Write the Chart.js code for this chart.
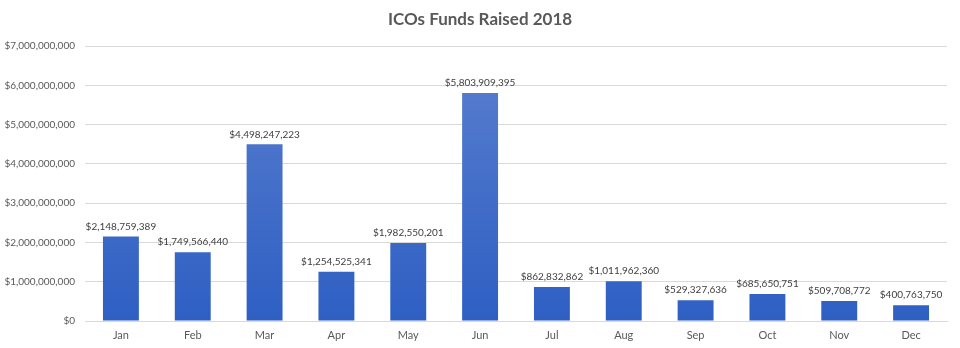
<!DOCTYPE html>
<html><head><meta charset="utf-8">
<script src="https://cdn.jsdelivr.net/npm/chart.js@4/dist/chart.umd.min.js"></script>
<style>html,body{margin:0;padding:0;background:#fff}#wrap{width:960px;height:348px}</style>
</head><body><div id="wrap"><canvas id="c" width="960" height="348"></canvas></div>
<script>
const categories = ["Jan","Feb","Mar","Apr","May","Jun","Jul","Aug","Sep","Oct","Nov","Dec"];
const fundsRaised = [2148759389,1749566440,4498247223,1254525341,1982550201,5803909395,862832862,1011962360,529327636,685650751,509708772,400763750];
const yTicks = [0,1e9,2e9,3e9,4e9,5e9,6e9,7e9];
const titleText = "ICOs Funds Raised 2018";

const FONT = "Lato, sans-serif";
const fmt = v => "$" + v.toLocaleString("en-US");

const labelPlugin = {
  id: "barLabels",
  afterDatasetsDraw(chart) {
    const ctx = chart.ctx;
    const meta = chart.getDatasetMeta(0);
    ctx.save();
    ctx.font = "10px " + FONT;
    ctx.fillStyle = "#404040";
    ctx.textAlign = "center";
    ctx.textBaseline = "bottom";
    meta.data.forEach((bar, i) => {
      ctx.fillText(fmt(fundsRaised[i]), bar.x, bar.y - 5);
    });
    ctx.restore();
  }
};

new Chart(document.getElementById("c"), {
  type: "bar",
  data: {
    labels: categories,
    datasets: [{
      data: fundsRaised,
      backgroundColor(context) {
        const chart = context.chart;
        const area = chart.chartArea;
        if (!area) return "#3f6ccb";
        const el = context.element;
        const top = el && isFinite(el.y) ? el.y : area.top;
        const bottom = area.bottom;
        const g = chart.ctx.createLinearGradient(0, top, 0, bottom);
        g.addColorStop(0, "#5a7fcf");
        g.addColorStop(1, "#2e5fc3");
        return g;
      },
      borderWidth: 0,
      barPercentage: 0.5,
      categoryPercentage: 1
    }]
  },
  options: {
    responsive: false,
    animation: false,
    layout: { padding: 0 },
    plugins: {
      legend: { display: false },
      tooltip: { enabled: false },
      title: {
        display: true,
        text: titleText,
        color: "#595959",
        font: { family: FONT, size: 17, weight: "bold", lineHeight: 1.2 },
        padding: { top: 9, bottom: 16.6 }
      }
    },
    scales: {
      x: {
        grid: { display: false, drawTicks: false },
        border: { display: true, color: "#d9d9d9" },
        ticks: { color: "#595959", font: { family: FONT, size: 11 }, padding: 8, maxRotation: 0 },
        afterFit(s) { s.height = 27; }
      },
      y: {
        min: 0, max: 7e9,
        afterBuildTicks(s) { s.ticks = yTicks.map(v => ({ value: v })); },
        grid: { color: "#d9d9d9", drawTicks: false },
        border: { display: false },
        ticks: { color: "#595959", font: { family: FONT, size: 10 }, padding: 10, callback: v => fmt(v) },
        afterFit(s) { s.width = 85; }
      },
      yRight: {
        position: "right",
        min: 0, max: 7e9,
        grid: { display: false, drawTicks: false },
        border: { display: false },
        ticks: { display: false },
        afterFit(s) { s.width = 13; }
      }
    }
  },
  plugins: [labelPlugin]
});
</script></body></html>
